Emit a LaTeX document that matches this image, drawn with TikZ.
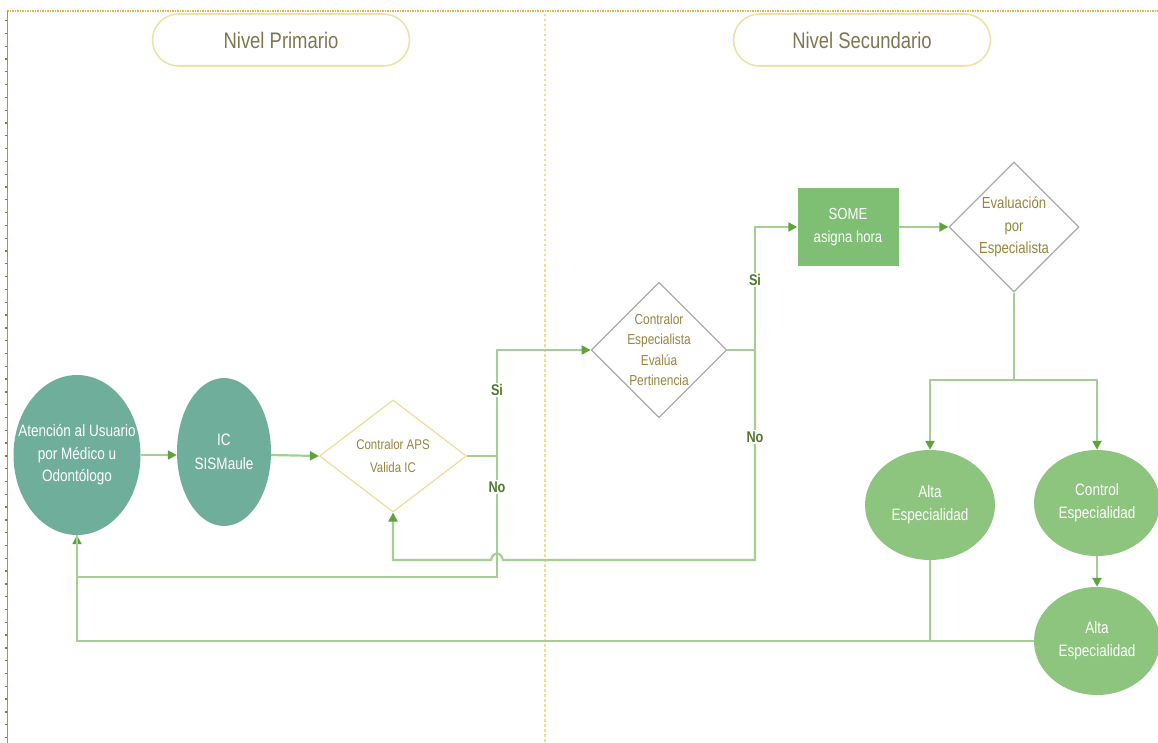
\documentclass[tikz,border=0pt]{standalone}
\usepackage{fontspec}
\setmainfont{Liberation Sans}[FakeStretch=0.82]
\usetikzlibrary{shapes.geometric,arrows.meta}

\definecolor{tealfill}{HTML}{70AE9C}
\definecolor{greenfill}{HTML}{8DC47E}
\definecolor{boxfill}{HTML}{7FBF73}
\definecolor{linegreen}{HTML}{A3CF93}
\definecolor{headgreen}{HTML}{5FA33A}
\definecolor{goldline}{HTML}{EEDD96}
\definecolor{goldtext}{HTML}{96843F}
\definecolor{headtext}{HTML}{7F7650}
\definecolor{pillline}{HTML}{F0E2A4}
\definecolor{greyline}{HTML}{AAAAAA}
\definecolor{labelgreen}{HTML}{4E7A2C}
\definecolor{frameleft}{HTML}{C8901E}
\definecolor{frametop}{HTML}{E2B84A}
\definecolor{divider}{HTML}{F2DC8C}

\begin{document}
\begin{tikzpicture}[x=1pt,y=-1pt,
  pill/.style={draw=pillline, line width=1.6pt, rounded corners=26pt,
    minimum width=257pt, minimum height=52pt, text=headtext,
    font=\fontsize{22.5}{26}\selectfont},
  inside/.style={text=white, align=center, inner sep=0pt},
  tealnode/.style={ellipse, fill=tealfill, inner sep=0pt},
  greennode/.style={ellipse, fill=greenfill, inner sep=0pt},
  choice/.style={diamond, draw, line width=1.2pt, inner sep=0pt,
    align=center, text=goldtext},
  flow/.style={draw=linegreen, line width=2.2pt},
  arr/.style={flow, -{Triangle[length=9pt,width=9pt,color=headgreen]}},
  lbl/.style={fill=white, inner sep=1.5pt, text=labelgreen,
    font=\bfseries\fontsize{15.5}{18}\selectfont}]

\useasboundingbox (0,0) rectangle (1158,743);

% frame and column divider
\draw[frametop, line width=1.6pt, dash pattern=on 1.5pt off 1pt] (7,11) -- (1158,11);
\draw[frameleft, line width=0.8pt] (7,11) -- (7,743);
\draw[frameleft!80!black, line width=2.4pt, dash pattern=on 1.3pt off 11.5pt] (6,20) -- (6,743);
\draw[divider, line width=2.4pt, dash pattern=on 2.5pt off 2.5pt] (545,14) -- (545,743);

% column headers
\node[pill] (hp) at (281,40) {Nivel Primario};
\node[pill] (hs) at (862,40) {Nivel Secundario};

% primary level
\node[tealnode, minimum width=127pt, minimum height=160pt,
  label={[inside, font=\fontsize{16.5}{22.5}\selectfont]center:{Atención al Usuario\\por Médico u\\Odontólogo}}]
  (e1) at (77,455) {};
\node[tealnode, minimum width=94pt, minimum height=148pt,
  label={[inside, font=\fontsize{16.5}{24}\selectfont]center:{IC\\SISMaule}}]
  (e2) at (224,452) {};
\node[choice, draw=goldline, minimum width=147pt, minimum height=112pt,
  font=\fontsize{14}{23}\selectfont] (d1) at (393,456)
  {Contralor APS\\Valida IC};

% secondary level
\node[choice, draw=greyline, minimum width=127pt, minimum height=130pt,
  font=\fontsize{14.5}{20.5}\selectfont] (d2) at (659,350)
  {Contralor\\Especialista\\Evalúa\\Pertinencia};
\node[rectangle, fill=boxfill, text=white, minimum width=101pt,
  minimum height=77pt, align=center, font=\fontsize{16}{23}\selectfont]
  (some) at (848,227) {SOME\\asigna hora};
\node[choice, draw=greyline, minimum width=128pt, minimum height=130pt,
  font=\fontsize{16}{22.5}\selectfont] (d3) at (1014,227)
  {Evaluación\\por\\Especialista};
\node[greennode, minimum width=130pt, minimum height=110pt,
  label={[inside, font=\fontsize{16.5}{23}\selectfont]center:{Alta\\Especialidad}}]
  (a1) at (930,505) {};
\node[greennode, minimum width=126pt, minimum height=106pt,
  label={[inside, font=\fontsize{16.5}{23}\selectfont]center:{Control\\Especialidad}}]
  (ce) at (1097,503) {};
\node[greennode, minimum width=126pt, minimum height=108pt,
  label={[inside, font=\fontsize{16.5}{23}\selectfont]center:{Alta\\Especialidad}}]
  (a2) at (1097,641) {};

% junction points
\coordinate (sw1) at (497,456);
\coordinate (back1) at (497,577);
\coordinate (sw2) at (755,350);
\coordinate (back2) at (755,560);
\coordinate (hopR) at (503,560);
\coordinate (hopL) at (491,560);
\coordinate (split) at (1014,380);
\coordinate (low) at (930,641);

% connectors
\draw[arr] (e1.east |- 0,455) -- (e2.west |- 0,455);
\draw[arr] (e2.east |- 0,455) -- (d1.west);
\draw[flow] (d1.east) -- (sw1);
\draw[arr] (sw1) |- (d2.west);
\draw[arr] (sw1) -- (back1) -| (e1.south);
\draw[flow] (d2.east) -- (sw2);
\draw[arr] (sw2) |- (some.west);
\draw[arr] (sw2) -- (back2) -- (hopR) .. controls (501,551) and (493,551) .. (hopL) -| (d1.south);
\draw[arr] (some) -- (d3);
\draw[flow] (d3.south) -- (split);
\draw[arr] (split) -| (a1.north);
\draw[arr] (split) -| (ce.north);
\draw[arr] (ce) -- (a2);
\draw[flow] (a1.south) -- (low);
\draw[flow] (a2.west) -| (e1.south);

% branch labels
\node[lbl] (si1) at (497,390) {Si};
\node[lbl] (no1) at (497,487) {No};
\node[lbl] (si2) at (755,280) {Si};
\node[lbl] (no2) at (755,437) {No};
\end{tikzpicture}
\end{document}
